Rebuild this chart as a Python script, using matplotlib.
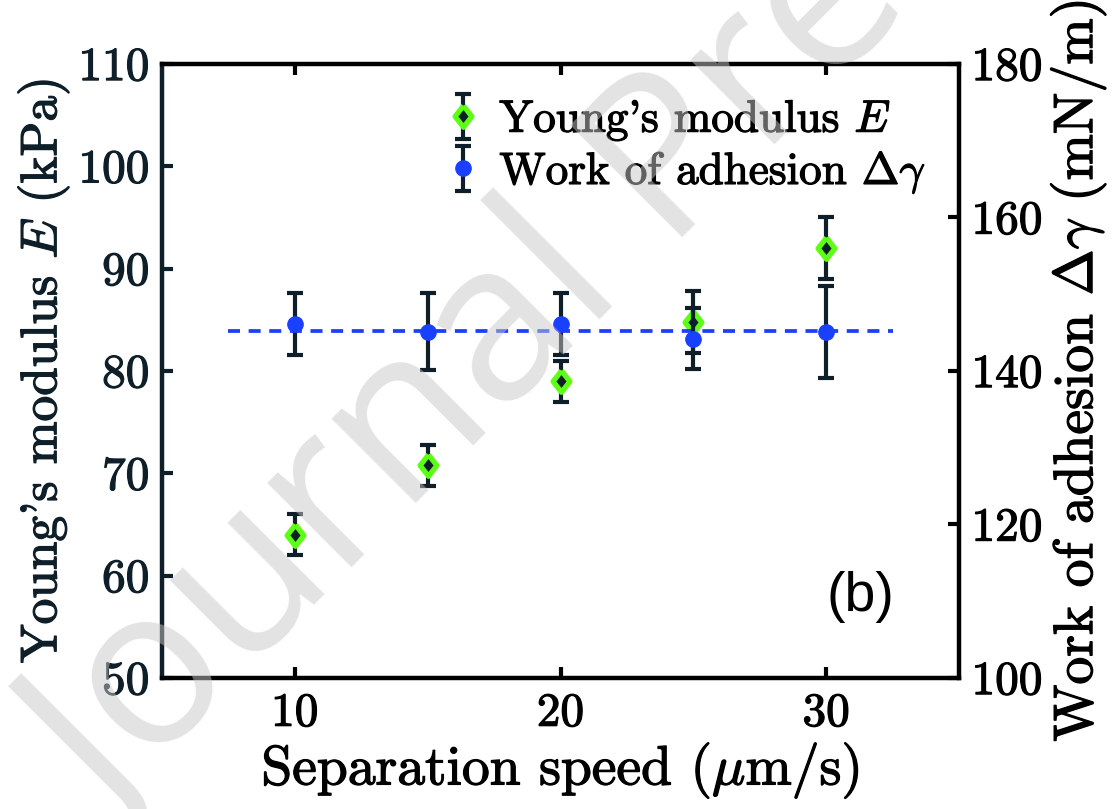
import matplotlib
matplotlib.use("Agg")
import matplotlib.pyplot as plt
import matplotlib.patheffects as pe

plt.rcParams['font.family'] = 'cmr10'
plt.rcParams['mathtext.fontset'] = 'cm'
plt.rcParams['axes.formatter.use_mathtext'] = True

# separation speed (um/s)
speed = [10, 15, 20, 25, 30]
# Young's modulus E (kPa) and its error
young = [64.0, 70.8, 79.0, 84.8, 92.0]
young_err = [2.0, 2.0, 2.0, 3.0, 3.0]
# work of adhesion (mN/m) and its error
adhesion = [146.1, 145.1, 146.1, 144.2, 145.1]
adhesion_err = [4.0, 5.0, 4.0, 4.0, 6.0]
# mean level of the adhesion (dashed line)
mean_x = [7.5, 32.5]
mean_level = 145.2

navy = '#0f1f2a'
green = '#5cff14'
blue = '#1a40ff'

def bold(c):
    # thicken the thin computer modern strokes a little
    return [pe.withStroke(linewidth=0.9, foreground=c)]

fig = plt.figure(figsize=(11.17, 8.09), dpi=100)
ax1 = fig.add_axes([0.145, 0.162, 0.7136, 0.759])
ax2 = ax1.twinx()

diamond = [(0, 1), (0.78, 0), (0, -1), (-0.78, 0), (0, 1)]
h1 = ax1.errorbar(speed, young, yerr=young_err, fmt='none', ecolor=navy,
                  elinewidth=3, capsize=5.5, capthick=3, zorder=2)
m1, = ax1.plot(speed, young, linestyle='none', marker=diamond, markersize=15.5,
               mfc=navy, mec=green, mew=3.8, zorder=3)
h2 = ax2.errorbar(speed, adhesion, yerr=adhesion_err, fmt='none', ecolor=navy,
                  elinewidth=3, capsize=5.5, capthick=3, zorder=2)
m2, = ax2.plot(speed, adhesion, linestyle='none', marker='o', markersize=11,
               mfc=blue, mec=blue, zorder=3)
ax2.plot(mean_x, [mean_level, mean_level], linestyle=(0, (3.2, 2.3)),
         color=blue, lw=2.7, zorder=1)

ax1.set_xlim(5, 35)
ax1.set_ylim(50, 110)
ax2.set_ylim(100, 180)
ax1.set_xticks([10, 20, 30])
ax1.set_yticks(range(50, 111, 10))
ax2.set_yticks(range(100, 181, 20))

for s in ['top', 'bottom']:
    ax1.spines[s].set_color('black')
    ax1.spines[s].set_linewidth(3.2)
ax1.spines['left'].set_color(navy)
ax1.spines['left'].set_linewidth(3.2)
ax1.spines['right'].set_visible(False)
for s in ['top', 'bottom', 'left']:
    ax2.spines[s].set_visible(False)
ax2.spines['right'].set_color('black')
ax2.spines['right'].set_linewidth(3.2)

ax1.tick_params(axis='x', which='both', direction='in', top=True, length=8,
                width=3, labelsize=34, pad=11, colors='black')
ax1.tick_params(axis='y', direction='in', length=8, width=3, labelsize=34,
                pad=9, colors=navy)
ax2.tick_params(axis='y', direction='in', length=8, width=3, labelsize=34,
                pad=9, colors='black')
for lab in ax1.get_xticklabels():
    lab.set_path_effects(bold('black'))
for lab in ax1.get_yticklabels():
    lab.set_path_effects(bold(navy))
for lab in ax2.get_yticklabels():
    lab.set_path_effects(bold('black'))

xl = ax1.set_xlabel(r'Separation speed ($\mu$m/s)', fontsize=40, labelpad=4)
yl = ax1.set_ylabel(r"Young's modulus $E$ (kPa)", fontsize=37, color=navy,
                    labelpad=5)
yr = ax2.set_ylabel(r'Work of adhesion $\Delta\gamma$ (mN/m)', fontsize=40,
                    labelpad=4)
xl.set_path_effects(bold('black'))
yl.set_path_effects(bold(navy))
yr.set_path_effects(bold('black'))

ax2.text(31.3, 57.9, '(b)', transform=ax1.transData, fontsize=40,
         family='Liberation Sans', ha='center', va='center')

leg = ax2.legend([(h1, m1), (h2, m2)],
                 [r"Young's modulus $E$", r'Work of adhesion $\Delta\gamma$'],
                 loc='upper left', bbox_to_anchor=(0.31, 1.01), frameon=False,
                 fontsize=32.5, handlelength=0.6, handletextpad=0.5,
                 labelspacing=0.16)
for t in leg.get_texts():
    t.set_path_effects(bold('black'))

fig.text(0.10, -0.02, 'Journal Pre-proof', rotation=45, rotation_mode='anchor',
         ha='left', va='baseline', fontsize=160, family='Open Sans',
         color=(0.78, 0.78, 0.78), alpha=0.5, zorder=10)

fig.savefig('out.png', dpi=100)
